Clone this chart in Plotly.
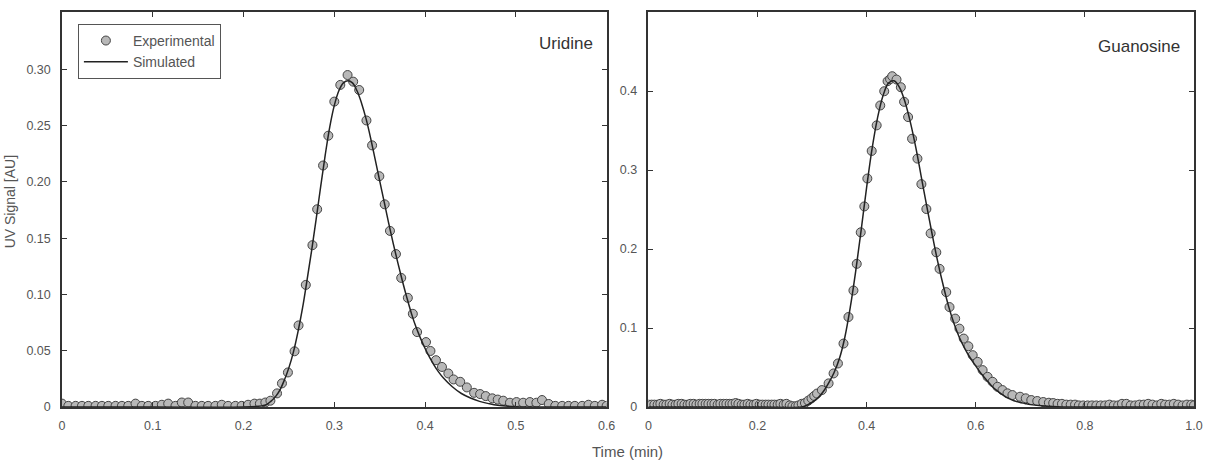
import plotly.graph_objects as go

# ---------------- Uridine (left panel) ----------------
uri_exp_x = [0.000, 0.007, 0.015, 0.022, 0.029, 0.037, 0.044, 0.051, 0.059, 0.066,
             0.073, 0.081, 0.088, 0.095, 0.103, 0.110, 0.117, 0.125, 0.132, 0.139,
             0.147, 0.154, 0.161, 0.169, 0.176, 0.183, 0.191, 0.198, 0.205, 0.212,
             0.218, 0.224,
             0.2296, 0.2369, 0.2423, 0.2489, 0.2562, 0.2606, 0.2686, 0.2759, 0.2811, 0.2876,
             0.2934, 0.300, 0.3066, 0.3146, 0.3208, 0.3274, 0.3354, 0.3416, 0.3496, 0.3555,
             0.3613, 0.3679, 0.3737, 0.381, 0.3865, 0.3912, 0.401, 0.4059, 0.412, 0.4186,
             0.4256, 0.4314, 0.4387, 0.446, 0.454, 0.4606, 0.4668, 0.4741, 0.480, 0.4861,
             0.4935, 0.5007, 0.508, 0.5154, 0.5226, 0.5288, 0.5362, 0.5434, 0.551, 0.558,
             0.565, 0.573, 0.580, 0.587, 0.595, 0.600]
uri_exp_y = [0.003, 0.001, 0.001, 0.001, 0.001, 0.001, 0.001, 0.001, 0.001, 0.001,
             0.001, 0.003, 0.001, 0.001, 0.001, 0.002, 0.003, 0.001, 0.004, 0.004,
             0.001, 0.001, 0.001, 0.001, 0.002, 0.001, 0.001, 0.001, 0.002, 0.003,
             0.003, 0.004,
             0.0056, 0.0121, 0.021, 0.0307, 0.0495, 0.0725, 0.1085, 0.1438, 0.1757, 0.2146,
             0.2411, 0.2714, 0.2862, 0.295, 0.2891, 0.2817, 0.2546, 0.2325, 0.2051, 0.1801,
             0.1565, 0.1359, 0.1147, 0.097, 0.0828, 0.0666, 0.0577, 0.0498, 0.0416, 0.0356,
             0.0298, 0.0245, 0.0224, 0.0174, 0.0126, 0.0115, 0.0097, 0.0077, 0.0066, 0.0056,
             0.0038, 0.0044, 0.0038, 0.0044, 0.0038, 0.0062, 0.0027, 0.001, 0.001, 0.001,
             0.001, 0.001, 0.002, 0.001, 0.002, 0.001]

uri_sim_x = [0.0, 0.10, 0.20, 0.22, 0.225, 0.23, 0.235, 0.24, 0.245, 0.25, 0.255, 0.26,
             0.265, 0.27, 0.275, 0.28, 0.285, 0.29, 0.295, 0.30, 0.305, 0.31, 0.315,
             0.32, 0.325, 0.33, 0.335, 0.34, 0.345, 0.35, 0.355, 0.36, 0.365, 0.37,
             0.375, 0.38, 0.385, 0.39, 0.395, 0.40, 0.405, 0.41, 0.415, 0.42, 0.43,
             0.44, 0.45, 0.46, 0.47, 0.48, 0.50, 0.52, 0.60]
uri_sim_y = [0.0, 0.0, 0.0, 0.001, 0.002, 0.005, 0.009, 0.015, 0.024, 0.035, 0.049, 0.067,
             0.088, 0.113, 0.139, 0.167, 0.196, 0.224, 0.249, 0.268, 0.281, 0.288, 0.290,
             0.288, 0.281, 0.270, 0.256, 0.239, 0.220, 0.201, 0.182, 0.163, 0.145, 0.128,
             0.112, 0.097, 0.083, 0.071, 0.061, 0.052, 0.044, 0.037, 0.031, 0.026, 0.018,
             0.012, 0.008, 0.005, 0.003, 0.0015, 0.0003, 0.0, 0.0]

# ---------------- Guanosine (right panel) ----------------
gua_exp_x = [0.000, 0.006, 0.011, 0.017, 0.022, 0.028, 0.033, 0.039, 0.044, 0.050,
             0.055, 0.061, 0.066, 0.072, 0.077, 0.083, 0.088, 0.094, 0.099, 0.105,
             0.110, 0.116, 0.121, 0.127, 0.132, 0.138, 0.143, 0.149, 0.154, 0.160,
             0.165, 0.171, 0.176, 0.182, 0.187, 0.193, 0.198, 0.204, 0.209, 0.215,
             0.220, 0.226, 0.231, 0.237, 0.242, 0.248, 0.253, 0.259, 0.264, 0.270,
             0.275, 0.281,
             0.287, 0.293, 0.299, 0.304, 0.3091, 0.318, 0.3303, 0.3394, 0.3474, 0.3576,
             0.3667, 0.3758, 0.3819, 0.3892, 0.3958, 0.4013, 0.4093, 0.4184, 0.425, 0.4323,
             0.4384, 0.4430, 0.4469, 0.4548, 0.4627, 0.4687, 0.476, 0.4833, 0.4931, 0.5004,
             0.5095, 0.5173, 0.5277, 0.5337, 0.5459, 0.5519, 0.5623, 0.5701, 0.578, 0.5865,
             0.5944, 0.6035, 0.6126, 0.6217, 0.6308, 0.6399, 0.649, 0.6581, 0.6672, 0.6812,
             0.6916, 0.7018, 0.7127, 0.7237, 0.734,
             0.742, 0.750, 0.758, 0.766, 0.774, 0.782, 0.789, 0.797, 0.805, 0.813,
             0.821, 0.829, 0.837, 0.845, 0.853, 0.861, 0.868, 0.876, 0.884, 0.892,
             0.900, 0.908, 0.916, 0.924, 0.932, 0.940, 0.947, 0.955, 0.963, 0.971,
             0.979, 0.987, 0.995, 1.000]
gua_exp_y = [0.003, 0.003, 0.003, 0.003, 0.004, 0.003, 0.003, 0.004, 0.003, 0.003,
             0.004, 0.004, 0.003, 0.003, 0.004, 0.004, 0.003, 0.004, 0.004, 0.004,
             0.004, 0.004, 0.004, 0.003, 0.004, 0.004, 0.004, 0.004, 0.004, 0.005,
             0.004, 0.003, 0.003, 0.004, 0.003, 0.003, 0.004, 0.003, 0.003, 0.003,
             0.003, 0.003, 0.003, 0.003, 0.004, 0.003, 0.004, 0.002, 0.001, 0.001,
             0.002, 0.004,
             0.005, 0.008, 0.011, 0.014, 0.017, 0.0214, 0.0299, 0.0425, 0.0551, 0.0803,
             0.1139, 0.1475, 0.1812, 0.2211, 0.2539, 0.2892, 0.3241, 0.3565, 0.3817, 0.3997,
             0.4124, 0.4150, 0.4187, 0.4145, 0.4048, 0.3863, 0.367, 0.3396, 0.3144, 0.2821,
             0.2506, 0.2198, 0.1958, 0.1749, 0.1454, 0.1265, 0.1119, 0.0992, 0.0866, 0.0769,
             0.0656, 0.0571, 0.0467, 0.0382, 0.0319, 0.0256, 0.0214, 0.0173, 0.0151, 0.013,
             0.011, 0.0088, 0.0076, 0.0063, 0.0054,
             0.005, 0.004, 0.004, 0.003, 0.003, 0.003, 0.002, 0.002, 0.002, 0.002,
             0.002, 0.002, 0.002, 0.003, 0.002, 0.002, 0.004, 0.004, 0.002, 0.002,
             0.003, 0.003, 0.004, 0.003, 0.002, 0.004, 0.003, 0.003, 0.004, 0.003,
             0.002, 0.003, 0.003, 0.002]

gua_sim_x = [0.0, 0.20, 0.28, 0.29, 0.30, 0.31, 0.32, 0.33, 0.34, 0.35, 0.36, 0.37,
             0.38, 0.39, 0.40, 0.41, 0.42, 0.43, 0.44, 0.45, 0.46, 0.47, 0.48, 0.49,
             0.50, 0.51, 0.52, 0.53, 0.54, 0.55, 0.56, 0.57, 0.58, 0.59, 0.60, 0.61,
             0.62, 0.63, 0.64, 0.65, 0.66, 0.67, 0.68, 0.69, 0.70, 0.72, 0.75, 0.78, 1.0]
gua_sim_y = [0.0, 0.0, 0.0, 0.002, 0.006, 0.011, 0.019, 0.030, 0.043, 0.061, 0.088, 0.126,
             0.172, 0.224, 0.278, 0.327, 0.366, 0.394, 0.410, 0.413, 0.405, 0.387, 0.361, 0.329,
             0.292, 0.255, 0.219, 0.185, 0.155, 0.128, 0.106, 0.088, 0.074, 0.062, 0.052, 0.042,
             0.034, 0.026, 0.020, 0.015, 0.011, 0.008, 0.006, 0.0045, 0.003, 0.0015, 0.0003, 0.0, 0.0]

# ---------------- axis ticks ----------------
uri_xticks = [0, 0.1, 0.2, 0.3, 0.4, 0.5, 0.6]
uri_xtext = ["0", "0.1", "0.2", "0.3", "0.4", "0.5", "0.6"]
uri_yticks = [0, 0.05, 0.10, 0.15, 0.20, 0.25, 0.30]
uri_ytext = ["0", "0.05", "0.10", "0.15", "0.20", "0.25", "0.30"]
gua_xticks = [0, 0.2, 0.4, 0.6, 0.8, 1.0]
gua_xtext = ["0", "0.2", "0.4", "0.6", "0.8", "1.0"]
gua_yticks = [0, 0.1, 0.2, 0.3, 0.4]
gua_ytext = ["0", "0.1", "0.2", "0.3", "0.4"]

FONT = "Liberation Sans, Arial, sans-serif"
marker_style = dict(size=9, color="#b8b8b8", line=dict(color="#444444", width=1))
line_style = dict(color="#222222", width=1.5)

fig = go.Figure()
fig.add_trace(go.Scatter(x=uri_exp_x, y=uri_exp_y, mode="markers", marker=marker_style,
                         name="Experimental", xaxis="x", yaxis="y"))
fig.add_trace(go.Scatter(x=uri_sim_x, y=uri_sim_y, mode="lines", line=dict(shape="spline", **line_style),
                         name="Simulated", xaxis="x", yaxis="y"))
fig.add_trace(go.Scatter(x=gua_exp_x, y=gua_exp_y, mode="markers", marker=marker_style,
                         name="Experimental", showlegend=False, xaxis="x2", yaxis="y2"))
fig.add_trace(go.Scatter(x=gua_sim_x, y=gua_sim_y, mode="lines", line=dict(shape="spline", **line_style),
                         name="Simulated", showlegend=False, xaxis="x2", yaxis="y2"))

W, H = 1213, 461
ML, MR, MT, MB = 62, 12, 10, 54
PW = W - ML - MR
PH = H - MT - MB

axis_common = dict(showline=True, linecolor="#333333", linewidth=1.5, mirror="ticks",
                   ticks="inside", ticklen=5, tickwidth=1.2, tickcolor="#333333",
                   showgrid=False, zeroline=False,
                   tickfont=dict(family=FONT, size=12.5, color="#555555"))

fig.update_layout(
    width=W, height=H,
    margin=dict(l=ML, r=MR, t=MT, b=MB),
    paper_bgcolor="white", plot_bgcolor="white",
    font=dict(family=FONT, color="#555555"),
    xaxis=dict(domain=[0, 548 / PW], range=[0, 0.6], tickvals=uri_xticks, ticktext=uri_xtext,
               ticklabelstandoff=6, anchor="y", **axis_common),
    yaxis=dict(domain=[0, 1], range=[0, 0.351], tickvals=uri_yticks, ticktext=uri_ytext,
               ticklabelstandoff=7, anchor="x", **axis_common),
    xaxis2=dict(domain=[(652 - ML) / PW, 1], range=[0, 1.0], tickvals=gua_xticks, ticktext=gua_xtext,
                ticklabelstandoff=6, anchor="y2", **axis_common),
    yaxis2=dict(domain=[0, 1], range=[0, 0.5], tickvals=gua_yticks, ticktext=gua_ytext,
                ticklabelstandoff=7, anchor="x2", **axis_common),
    showlegend=True,
    legend=dict(x=(78 - ML) / PW, y=1 - (22 - MT) / PH, xanchor="left", yanchor="top",
                bordercolor="#555555", borderwidth=1, bgcolor="white",
                font=dict(family=FONT, size=14, color="#555555"),
                itemwidth=44, entrywidth=136, entrywidthmode="pixels", tracegroupgap=0),
    annotations=[
        dict(text="Uridine", xref="paper", yref="paper", x=(598 - ML) / PW, y=1 - (42 - MT) / PH,
             xanchor="right", yanchor="middle", showarrow=False,
             font=dict(family=FONT, size=17, color="#333333")),
        dict(text="Guanosine", xref="paper", yref="paper", x=(1189 - ML) / PW, y=1 - (45 - MT) / PH,
             xanchor="right", yanchor="middle", showarrow=False,
             font=dict(family=FONT, size=17, color="#333333")),
        dict(text="Time (min)", xref="paper", yref="paper", x=(631 - ML) / PW, y=-(452 - MT - PH) / PH,
             xanchor="center", yanchor="middle", showarrow=False,
             font=dict(family=FONT, size=15, color="#555555")),
        dict(text="UV Signal [AU]", xref="paper", yref="paper", x=(10 - ML) / PW, y=(MT + PH - 201) / PH,
             xanchor="center", yanchor="middle", textangle=-90, showarrow=False,
             font=dict(family=FONT, size=14, color="#555555")),
    ],
)

fig.write_html("out.html")
